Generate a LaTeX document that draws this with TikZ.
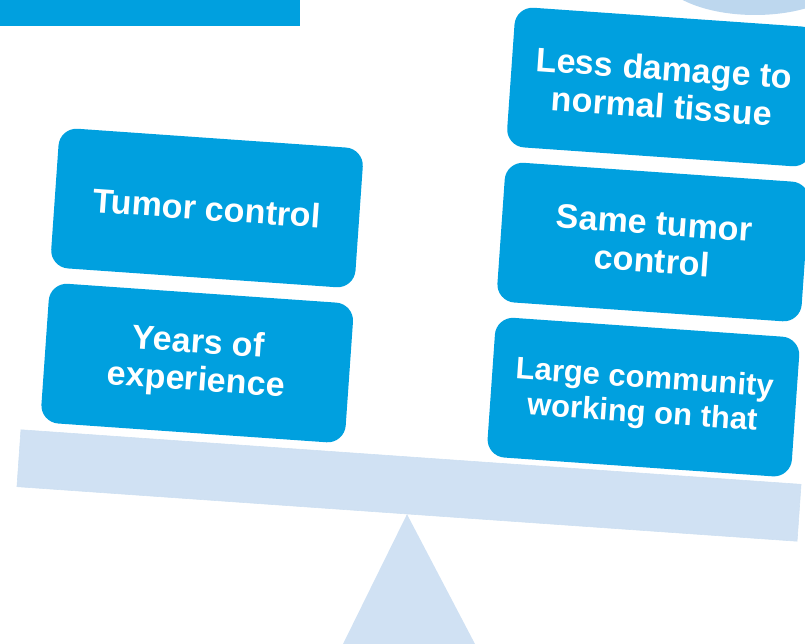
\documentclass[tikz,border=0pt]{standalone}
\usepackage{fontspec}
\setmainfont{Liberation Sans}
\definecolor{scaleCyan}{HTML}{00A0DF}
\definecolor{scaleBeam}{HTML}{D0E1F3}
\definecolor{scaleCap}{HTML}{BDD7EE}
\usetikzlibrary{positioning}

\begin{document}
\begin{tikzpicture}[
        x=1pt, y=-1pt,
        node distance=15pt,
        card/.style={
          rounded corners=18pt,
          fill=scaleCyan,
          text=white,
          minimum height=140pt,
          minimum width=305pt,
          align=center,
          font=\fontsize{34}{38}\selectfont\bfseries,
          rotate=-4,
        },
        beam/.style={
          fill=scaleBeam,
          draw=scaleBeam!90!scaleCap,
          line width=0.6pt,
          minimum width=782pt,
          minimum height=57pt,
          inner sep=0pt,
          rotate=-4,
        },
      ]
        \useasboundingbox (0,0) rectangle (805,644);

        % header bits
        \fill[scaleCyan] (0,0) rectangle (300,26);
        \fill[scaleCap] (755,-30) ellipse [x radius=97, y radius=45];

        % fulcrum and beam
        \node[beam] (bar) at (409,485.5) {};
        \fill[scaleBeam] (bar.south) -- (475,644) -- (343,644) -- cycle;

        % left pan
        \node[card] (tumor) at (207,208) {Tumor control};
        \node[card, below=of tumor] (years) {Years of\\experience};

        % right pan
        \node[card] (damage) at (663,87) {Less damage to\\normal tissue};
        \node[card, below=of damage] (same) {Same tumor\\control};
        \node[card, below=of same, font=\fontsize{31}{35}\selectfont\bfseries] (community) {Large community\\working on that};
      \end{tikzpicture}
\end{document}
